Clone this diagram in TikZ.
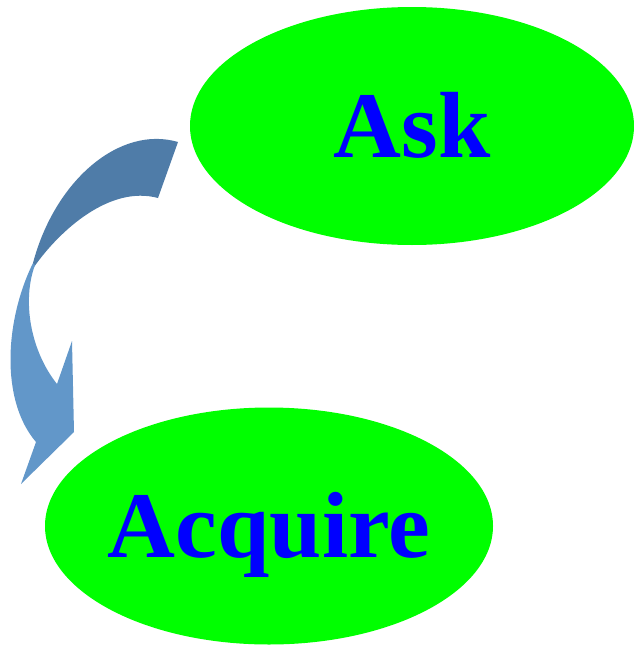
\documentclass[tikz,border=0pt]{standalone}
\usepackage{fontspec}
\setmainfont{Liberation Serif}
\usetikzlibrary{shapes.geometric}
\definecolor{leafgreen}{HTML}{00FF00}
\definecolor{wordblue}{HTML}{0000FF}
\definecolor{bendtop}{HTML}{4F7CA8}
\definecolor{bendlow}{HTML}{6297C9}
\tikzset{
    stage/.style={ellipse, fill=leafgreen, inner ysep=0pt, inner xsep=-20pt, text=wordblue,
        font=\bfseries\fontsize{94}{94}\selectfont, text height=63pt, text depth=0pt},
}
\begin{document}
\begin{tikzpicture}[x=1pt, y=-1pt]
            \useasboundingbox (0,0) rectangle (634,645);
            \node[stage, minimum width=444pt, minimum height=238pt] (ask) at (412,126) {Ask};
            \node[stage, minimum width=448pt, minimum height=237pt] (acquire) at (269,526) {Acquire};
            \fill[bendtop] (178,142) .. controls (120,125) and (55,180) .. (33,263)
                -- (34,267) .. controls (60,230) and (110,185) .. (158,198) -- cycle;
            \fill[bendlow] (33,263) .. controls (5,320) and (0,400) .. (36,442)
                -- (21,484) -- (74,432) -- (72,341) -- (57,384)
                .. controls (30,350) and (22,300) .. (35,265) -- cycle;
        \end{tikzpicture}
\end{document}
